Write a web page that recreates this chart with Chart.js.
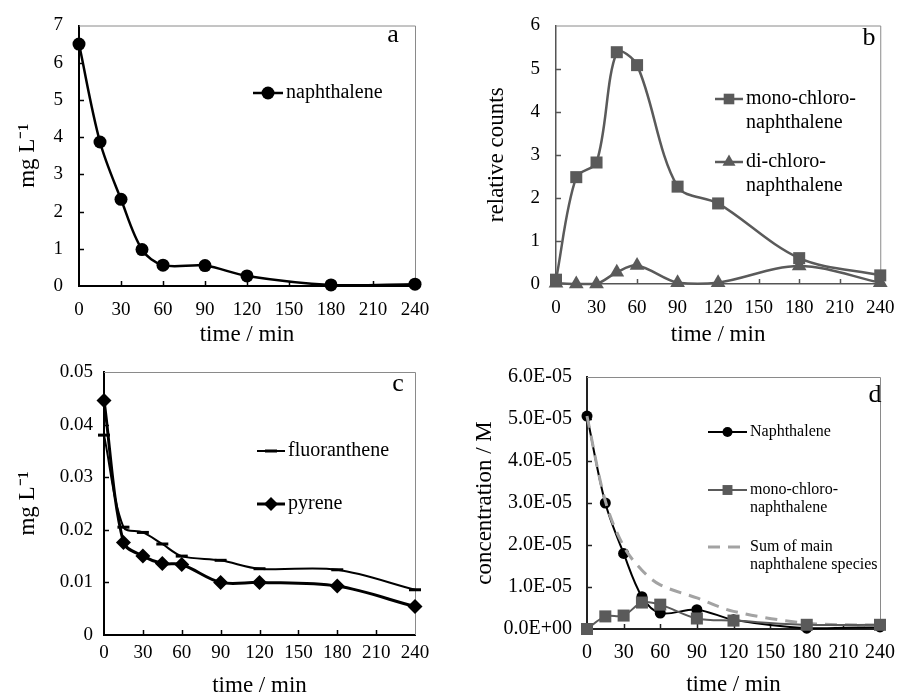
<!DOCTYPE html>
<html>
<head>
<meta charset="utf-8">
<script src="https://cdn.jsdelivr.net/npm/chart.js@4.4.1/dist/chart.umd.min.js"></script>
<style>
body { margin: 0; background: #fff; width: 909px; height: 697px; position: relative; overflow: hidden; }
canvas { position: absolute; }
</style>
</head>
<body>
<canvas id="chartA" width="450" height="350" style="left:0;top:0"></canvas>
<canvas id="chartB" width="459" height="350" style="left:450px;top:0"></canvas>
<canvas id="chartC" width="450" height="357" style="left:0;top:340px"></canvas>
<canvas id="chartD" width="459" height="357" style="left:450px;top:340px"></canvas>
<script>
// sampling times (min)
const times = [0, 15, 30, 45, 60, 90, 120, 180, 240];
const xTicks = [0, 30, 60, 90, 120, 150, 180, 210, 240];

// a: naphthalene, mg/L
const naphA = [6.5, 3.87, 2.33, 0.98, 0.56, 0.55, 0.27, 0.03, 0.05];
// b: relative counts
const monoB = [0.1, 2.48, 2.82, 5.38, 5.08, 2.26, 1.87, 0.6, 0.2];
const diB = [0.02, 0.0, 0.0, 0.27, 0.43, 0.03, 0.03, 0.42, 0.03];
// c: mg/L
const fluorC = [0.038, 0.0205, 0.0195, 0.0173, 0.015, 0.0142, 0.0126, 0.0124, 0.0086];
const pyreneC = [0.0446, 0.0176, 0.015, 0.0136, 0.0134, 0.0100, 0.0100, 0.0093, 0.0054];
// d: concentration, M
const naphD = [5.07e-5, 3.0e-5, 1.8e-5, 0.77e-5, 0.38e-5, 0.46e-5, 0.22e-5, 0.02e-5, 0.05e-5];
const monoD = [0.0, 0.3e-5, 0.32e-5, 0.63e-5, 0.58e-5, 0.25e-5, 0.2e-5, 0.1e-5, 0.1e-5];
const sumD = [5.07e-5, 3.05e-5, 1.97e-5, 1.4e-5, 1.05e-5, 0.74e-5, 0.42e-5, 0.14e-5, 0.09e-5];

const SERIF = '"Liberation Serif", "Times New Roman", serif';
const GREY = "#5a5a5a";

function pts(vals) {
    return times.map((t, i) => ({ x: t, y: vals[i] }));
}

function drawMarker(ctx, style, r, x, y, fill, stroke, bw) {
    ctx.save();
    ctx.fillStyle = fill;
    ctx.strokeStyle = stroke;
    ctx.lineWidth = bw;
    ctx.setLineDash([]);
    ctx.beginPath();
    if (style === "circle") {
        ctx.arc(x, y, r, 0, Math.PI * 2);
    } else if (style === "rect") {
        const s = Math.SQRT1_2 * r;
        ctx.rect(x - s, y - s, 2 * s, 2 * s);
    } else if (style === "triangle") {
        for (let k = 0; k < 3; k++) {
            const a = k * 2 * Math.PI / 3;
            const px = x + Math.sin(a) * r, py = y - Math.cos(a) * r;
            if (k === 0) ctx.moveTo(px, py); else ctx.lineTo(px, py);
        }
        ctx.closePath();
    } else if (style === "rectRot") {
        ctx.moveTo(x - r, y);
        ctx.lineTo(x, y - r);
        ctx.lineTo(x + r, y);
        ctx.lineTo(x, y + r);
        ctx.closePath();
    } else if (style === "line") {
        ctx.moveTo(x - r, y);
        ctx.lineTo(x + r, y);
        ctx.stroke();
        ctx.restore();
        return;
    }
    ctx.fill();
    if (bw > 0) ctx.stroke();
    ctx.restore();
}

// box around the plot area + inward tick marks
const framePlugin = {
    id: "frame",
    beforeDatasetsDraw(chart, args, opts) {
        const { ctx, chartArea: ca } = chart;
        ctx.save();
        ctx.strokeStyle = opts.boxColor;
        ctx.lineWidth = 1;
        ctx.beginPath();
        ctx.moveTo(ca.left, ca.top + 0.5);
        ctx.lineTo(ca.right + 0.5, ca.top + 0.5);
        ctx.lineTo(ca.right + 0.5, ca.bottom);
        ctx.stroke();

        ctx.strokeStyle = opts.tickColor;
        ctx.lineWidth = opts.tickWidth;
        const xs = chart.scales.x, ys = chart.scales.y;
        ctx.beginPath();
        xs.ticks.forEach(t => {
            if (t.value <= xs.min || t.value >= xs.max) return;
            const px = Math.round(xs.getPixelForValue(t.value)) + 0.5;
            ctx.moveTo(px, ca.bottom);
            ctx.lineTo(px, ca.bottom - 5);
        });
        ys.ticks.forEach(t => {
            if (t.value <= ys.min + 1e-12 || t.value >= ys.max - 1e-12) return;
            const py = Math.round(ys.getPixelForValue(t.value)) + 0.5;
            ctx.moveTo(ca.left, py);
            ctx.lineTo(ca.left + 5, py);
        });
        ctx.stroke();
        ctx.restore();
    }
};

// legend inside the plot, plus the panel letter
const inLegend = {
    id: "inLegend",
    afterDraw(chart, args, opts) {
        const ctx = chart.ctx;
        ctx.save();
        ctx.font = opts.fontSize + "px " + SERIF;
        ctx.textBaseline = "middle";
        ctx.textAlign = "left";
        ctx.fillStyle = "#000";
        opts.items.forEach(it => {
            const ds = chart.data.datasets[it.ds];
            ctx.save();
            ctx.strokeStyle = ds.borderColor;
            ctx.lineWidth = ds.borderWidth;
            ctx.setLineDash(ds.borderDash || []);
            ctx.beginPath();
            ctx.moveTo(it.x1, it.y);
            ctx.lineTo(it.x2, it.y);
            ctx.stroke();
            ctx.restore();
            if (ds.pointRadius > 0) {
                drawMarker(ctx, ds.pointStyle, it.r || ds.pointRadius, (it.x1 + it.x2) / 2, it.y,
                    ds.pointBackgroundColor, ds.pointBorderColor, ds.pointBorderWidth);
            }
            it.lines.forEach((txt, k) => {
                ctx.fillText(txt, it.x2 + 3, it.y + k * opts.lineGap);
            });
        });
        ctx.font = "26px " + SERIF;
        ctx.textAlign = "center";
        ctx.fillText(opts.letter, opts.lx, opts.ly);
        ctx.restore();
    }
};

function sciLabel(v) {
    if (Math.abs(v) < 1e-12) return "0.0E+00";
    const parts = v.toExponential(1).split("e");
    const e = parseInt(parts[1], 10);
    const sign = e < 0 ? "-" : "+";
    return parts[0] + "E" + sign + String(Math.abs(e)).padStart(2, "0");
}

function makeChart(id, cfg) {
    new Chart(document.getElementById(id), {
        type: "line",
        data: { datasets: cfg.datasets },
        plugins: [framePlugin, inLegend],
        options: {
            responsive: false,
            animation: false,
            events: [],
            layout: { padding: cfg.padding },
            elements: { line: { tension: 0.33, fill: false } },
            plugins: {
                legend: { display: false },
                tooltip: { enabled: false },
                frame: { boxColor: "#8a8a8a", tickColor: cfg.axisColor, tickWidth: 1.5 },
                inLegend: cfg.legend
            },
            scales: {
                x: {
                    type: "linear",
                    min: 0,
                    max: 240,
                    afterBuildTicks: s => { s.ticks = xTicks.map(v => ({ value: v })); },
                    afterFit: s => { s.height = cfg.xHeight; },
                    grid: { display: false, drawTicks: false },
                    border: { display: true, color: cfg.axisColor, width: cfg.axisWidth },
                    ticks: {
                        autoSkip: false, maxRotation: 0, color: "#000",
                        padding: cfg.xPad,
                        font: { family: SERIF, size: cfg.tickSize, lineHeight: 1 }
                    },
                    title: {
                        display: true, text: "time / min", color: "#000",
                        padding: { top: 0, bottom: cfg.xTitlePad },
                        font: { family: SERIF, size: 23, lineHeight: 1 }
                    }
                },
                y: {
                    type: "linear",
                    min: cfg.yMin,
                    max: cfg.yMax,
                    afterFit: s => { s.width = cfg.yWidth; },
                    grid: { display: false, drawTicks: false },
                    border: { display: true, color: cfg.axisColor, width: cfg.axisWidth },
                    ticks: {
                        stepSize: cfg.yStep, color: "#000",
                        padding: cfg.yPad,
                        callback: cfg.yFormat,
                        font: { family: SERIF, size: cfg.tickSize, lineHeight: 1 }
                    },
                    title: {
                        display: true, text: cfg.yTitle, color: "#000",
                        padding: { top: cfg.yTitlePad, bottom: 0 },
                        font: { family: SERIF, size: 23, lineHeight: 1 }
                    }
                }
            }
        }
    });
}

function series(vals, o) {
    return Object.assign({
        data: pts(vals),
        clip: false,
        borderDash: [],
        pointBorderWidth: 0
    }, o);
}

// panel a
makeChart("chartA", {
    padding: { top: 19, right: 35, left: 0, bottom: 0 },
    yWidth: 79, xHeight: 64, xPad: 14.5, yPad: 16, xTitlePad: 4, yTitlePad: 16.5,
    tickSize: 19, axisColor: "#000", axisWidth: 2,
    yMin: 0, yMax: 7, yStep: 1, yTitle: "mg L\u207B\u00B9",
    yFormat: v => String(v),
    datasets: [
        series(naphA, {
            borderColor: "#000", borderWidth: 2.5,
            pointStyle: "circle", pointRadius: 6.5,
            pointBackgroundColor: "#000", pointBorderColor: "#000"
        })
    ],
    legend: {
        fontSize: 20, lineGap: 24, letter: "a", lx: 393, ly: 35,
        items: [{ ds: 0, x1: 253, x2: 283, y: 93, lines: ["naphthalene"] }]
    }
});

// panel b
makeChart("chartB", {
    padding: { top: 23, right: 22, left: 0, bottom: 0 },
    yWidth: 106, xHeight: 66, xPad: 14.5, yPad: 16, xTitlePad: 4, yTitlePad: 35.5,
    tickSize: 19, axisColor: "#555", axisWidth: 1.5,
    yMin: 0, yMax: 6, yStep: 1, yTitle: "relative counts",
    yFormat: v => String(v),
    datasets: [
        series(monoB, {
            borderColor: GREY, borderWidth: 2.5,
            pointStyle: "rect", pointRadius: 8.5,
            pointBackgroundColor: GREY, pointBorderColor: GREY
        }),
        series(diB, {
            borderColor: GREY, borderWidth: 2.5,
            pointStyle: "triangle", pointRadius: 8.5,
            pointBackgroundColor: GREY, pointBorderColor: GREY
        })
    ],
    legend: {
        fontSize: 20, lineGap: 24, letter: "b", lx: 419, ly: 38,
        items: [
            { ds: 0, x1: 265, x2: 293, y: 99, r: 7.5, lines: ["mono-chloro-", "naphthalene"] },
            { ds: 1, x1: 265, x2: 293, y: 162, r: 7.5, lines: ["di-chloro-", "naphthalene"] }
        ]
    }
});

// panel c
makeChart("chartC", {
    padding: { top: 32, right: 35, left: 0, bottom: 0 },
    yWidth: 104, xHeight: 62, xPad: 8.5, yPad: 11, xTitlePad: 0, yTitlePad: 16.5,
    tickSize: 19, axisColor: "#000", axisWidth: 2,
    yMin: 0, yMax: 0.05, yStep: 0.01, yTitle: "mg L\u207B\u00B9",
    yFormat: v => (Math.abs(v) < 1e-9 ? "0" : v.toFixed(2)),
    datasets: [
        series(fluorC, {
            borderColor: "#000", borderWidth: 2,
            pointStyle: "line", pointRadius: 6, pointBorderWidth: 3,
            pointBackgroundColor: "#000", pointBorderColor: "#000"
        }),
        series(pyreneC, {
            borderColor: "#000", borderWidth: 3,
            pointStyle: "rectRot", pointRadius: 7.5,
            pointBackgroundColor: "#000", pointBorderColor: "#000"
        })
    ],
    legend: {
        fontSize: 20, lineGap: 24, letter: "c", lx: 398, ly: 44,
        items: [
            { ds: 0, x1: 257, x2: 285, y: 111, lines: ["fluoranthene"] },
            { ds: 1, x1: 257, x2: 285, y: 164, r: 7, lines: ["pyrene"] }
        ]
    }
});

// panel d
makeChart("chartD", {
    padding: { top: 37, right: 15, left: 0, bottom: 0 },
    yWidth: 137, xHeight: 68, xPad: 14, yPad: 15, xTitlePad: 0.5, yTitlePad: 23.5,
    tickSize: 20, axisColor: "#222", axisWidth: 2,
    yMin: 0, yMax: 6e-5, yStep: 1e-5, yTitle: "concentration / M",
    yFormat: v => sciLabel(v),
    datasets: [
        series(naphD, {
            order: 2,
            borderColor: "#000", borderWidth: 2,
            pointStyle: "circle", pointRadius: 5.5,
            pointBackgroundColor: "#000", pointBorderColor: "#000"
        }),
        series(monoD, {
            order: 0,
            borderColor: GREY, borderWidth: 2,
            pointStyle: "rect", pointRadius: 8.5,
            pointBackgroundColor: GREY, pointBorderColor: GREY
        }),
        series(sumD, {
            order: 1,
            borderColor: "#a3a3a3", borderWidth: 3, borderDash: [12, 8],
            pointRadius: 0
        })
    ],
    legend: {
        fontSize: 16, lineGap: 18, letter: "d", lx: 425, ly: 55,
        items: [
            { ds: 0, x1: 258, x2: 297, y: 92, r: 5, lines: ["Naphthalene"] },
            { ds: 1, x1: 258, x2: 297, y: 150, r: 7, lines: ["mono-chloro-", "naphthalene"] },
            { ds: 2, x1: 258, x2: 297, y: 207, lines: ["Sum of main", "naphthalene species"] }
        ]
    }
});
</script>
</body>
</html>
